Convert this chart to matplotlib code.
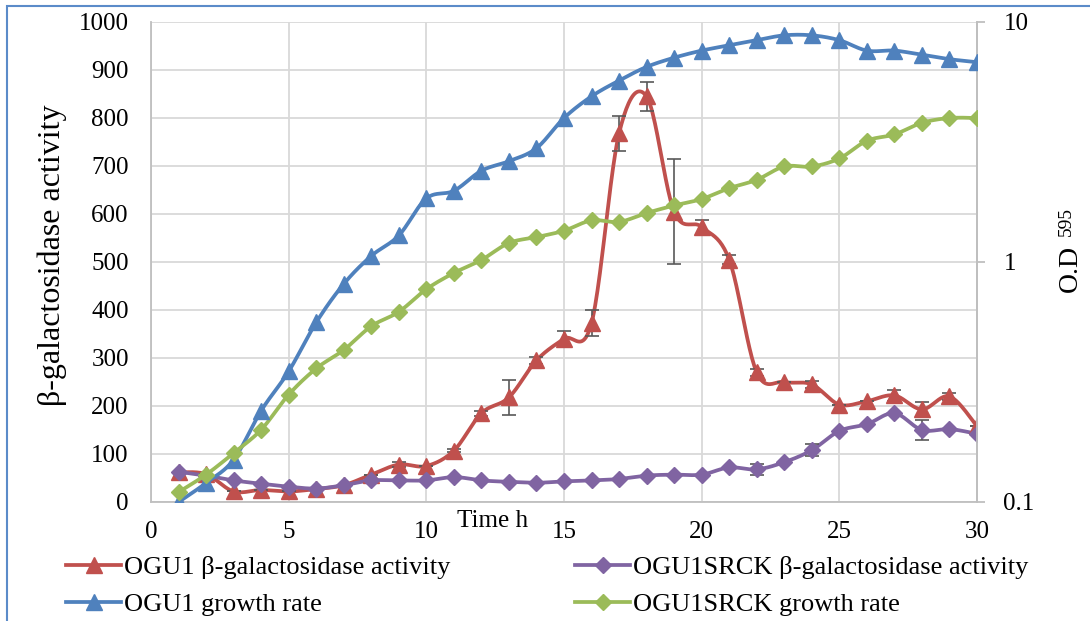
import numpy as np
import matplotlib
matplotlib.use("Agg")
import matplotlib.pyplot as plt
from matplotlib.lines import Line2D
from matplotlib.patches import Rectangle

plt.rcParams['font.family'] = ['Liberation Serif', 'DejaVu Serif']

# ---------------- data ----------------
time_h = list(range(1, 31))

ogu1_gal = [62, 58, 22, 25, 22, 27, 35, 57, 78, 75, 107, 185, 218, 295, 340,
            373, 768, 845, 605, 573, 505, 270, 250, 245, 203, 210, 222, 193, 220, 158]
ogu1_gal_err = [0, 0, 0, 0, 0, 0, 0, 0, 5, 0, 3, 5, 37, 8, 17,
                28, 37, 30, 110, 15, 10, 8, 0, 8, 0, 0, 12, 15, 8, 0]

srck_gal = [63, 55, 45, 38, 32, 28, 35, 45, 45, 45, 52, 45, 42, 40, 43,
            45, 48, 55, 57, 57, 72, 68, 83, 108, 148, 162, 185, 150, 152, 142]
srck_gal_err = [0, 0, 0, 0, 0, 0, 0, 0, 0, 0, 0, 0, 0, 0, 0,
                0, 0, 0, 0, 0, 0, 12, 0, 12, 0, 0, 0, 21, 0, 0]

ogu1_od = [0.10, 0.12, 0.15, 0.24, 0.35, 0.56, 0.81, 1.06, 1.29, 1.84, 1.98, 2.40, 2.63, 2.98, 3.98,
           4.9, 5.7, 6.5, 7.1, 7.6, 8.0, 8.4, 8.8, 8.8, 8.4, 7.6, 7.6, 7.3, 7.0, 6.8]
srck_od = [0.11, 0.13, 0.16, 0.20, 0.28, 0.36, 0.43, 0.54, 0.62, 0.77, 0.90, 1.02, 1.20, 1.27, 1.35,
           1.49, 1.47, 1.60, 1.72, 1.83, 2.03, 2.20, 2.50, 2.50, 2.70, 3.20, 3.40, 3.80, 3.98, 3.98]

labels = ["OGU1 β-galactosidase activity", "OGU1SRCK β-galactosidase activity",
          "OGU1 growth rate", "OGU1SRCK growth rate"]
colors = ["#C0504D", "#8064A2", "#4F81BD", "#9BBB59"]


def smooth(x, y, n=24):
    """Excel-like smoothed line (Catmull-Rom Bezier) through the points."""
    x = np.asarray(x, float)
    y = np.asarray(y, float)
    xs, ys = [], []
    m = len(x)
    for i in range(m - 1):
        p0 = np.array([x[max(i - 1, 0)], y[max(i - 1, 0)]])
        p1 = np.array([x[i], y[i]])
        p2 = np.array([x[i + 1], y[i + 1]])
        p3 = np.array([x[min(i + 2, m - 1)], y[min(i + 2, m - 1)]])
        c1 = p1 + (p2 - p0) / 6.0
        c2 = p2 - (p3 - p1) / 6.0
        t = np.linspace(0, 1, n)[:, None]
        b = ((1 - t) ** 3) * p1 + 3 * ((1 - t) ** 2) * t * c1 + 3 * (1 - t) * t ** 2 * c2 + t ** 3 * p2
        xs.extend(b[:, 0])
        ys.extend(b[:, 1])
    return np.array(xs), np.array(ys)


W, H = 1090, 621
fig = plt.figure(figsize=(W / 100, H / 100), dpi=100)
x0, x1, y0, y1 = 151, 977, 22, 502
ax = fig.add_axes([x0 / W, 1 - y1 / H, (x1 - x0) / W, (y1 - y0) / H])
ax2 = ax.twinx()

grid_c = "#D9D9D9"
spine_c = "#BFBFBF"
err_c = "#595959"
lw = 2.7

# primary axis: beta-galactosidase
for vals, err, col, mk, ms in [(ogu1_gal, ogu1_gal_err, colors[0], '^', 11),
                               (srck_gal, srck_gal_err, colors[1], 'D', 8)]:
    sx, sy = smooth(time_h, vals)
    ax.plot(sx, sy, color=col, lw=lw, zorder=3, solid_capstyle='round')
    ax.errorbar(time_h, vals, yerr=err, fmt='none', ecolor=err_c, elinewidth=1.2,
                capsize=5, capthick=1.2, zorder=4)
    ax.plot(time_h, vals, linestyle='none', marker=mk, markersize=ms, color=col,
            markeredgecolor=col, zorder=5)

# secondary axis: O.D (log)
for vals, col, mk, ms in [(ogu1_od, colors[2], '^', 11), (srck_od, colors[3], 'D', 8)]:
    lx, ly = smooth(time_h, np.log10(vals))
    ax2.plot(lx, 10 ** ly, color=col, lw=lw, zorder=3, solid_capstyle='round')
    ax2.plot(time_h, vals, linestyle='none', marker=mk, markersize=ms, color=col,
             markeredgecolor=col, zorder=5)

ax.set_xlim(0, 30)
ax.set_ylim(0, 1000)
ax.set_xticks(range(0, 31, 5))
ax.set_yticks(range(0, 1001, 100))
ax.grid(True, color=grid_c, lw=1.3)
ax.set_axisbelow(True)
ax.tick_params(axis='both', length=0, labelsize=18, colors='black')
ax.tick_params(axis='x', pad=14)
ax.tick_params(axis='y', pad=16)

ax2.set_yscale('log')
ax2.set_ylim(0.1, 10)
ax2.set_yticks([0.1, 1, 10])
ax2.set_yticklabels(["0.1", "1", "10"])
ax2.yaxis.set_minor_locator(matplotlib.ticker.NullLocator())
ax2.tick_params(axis='y', which='major', length=6, width=1.3, color=spine_c,
                labelsize=18, pad=13, direction='out')

for a in (ax, ax2):
    a.spines['top'].set_visible(False)
    for s in ('left', 'right', 'bottom'):
        a.spines[s].set_color(spine_c)
        a.spines[s].set_linewidth(1.3)
ax2.spines['left'].set_visible(False)
ax2.spines['bottom'].set_visible(False)

# axis labels
fig.text(52 / W, 1 - 255 / H, "β-galactosidase activity", rotation=90,
         fontsize=23, ha='center', va='center')
fig.text(1070 / W, 1 - 268 / H, "O.D", rotation=90, fontsize=20, ha='center', va='center')
fig.text(1066 / W, 1 - 222 / H, "595", rotation=90, fontsize=14, ha='center', va='center')
fig.text(457 / W, 1 - 527 / H, "Time h", fontsize=18, ha='left', va='baseline')

# legends (two columns placed explicitly)
def handle(col, mk, ms):
    return Line2D([], [], color=col, lw=lw, marker=mk, markersize=ms, markeredgecolor=col)

h_red = handle(colors[0], '^', 11)
h_pur = handle(colors[1], 'D', 8)
h_blu = handle(colors[2], '^', 11)
h_grn = handle(colors[3], 'D', 8)

leg_kw = dict(frameon=False, fontsize=19, handlelength=2.1, handletextpad=0.1,
              labelspacing=0.5, borderpad=0, borderaxespad=0, loc='upper left')
l1 = fig.legend([h_red, h_blu], [labels[0], labels[2]],
                bbox_to_anchor=(66 / W, 1 - 556 / H), **leg_kw)
l2 = fig.legend([h_pur, h_grn], [labels[1], labels[3]],
                bbox_to_anchor=(575 / W, 1 - 556 / H), **leg_kw)

# outer chart frame (blue), visible on top and left
fig.patches.append(Rectangle((7 / W, -0.05), 1.2, 1 - 6 / H + 0.05, transform=fig.transFigure,
                             fill=False, edgecolor="#5B8BC9", lw=1.5))

fig.savefig("out.png", dpi=100)
